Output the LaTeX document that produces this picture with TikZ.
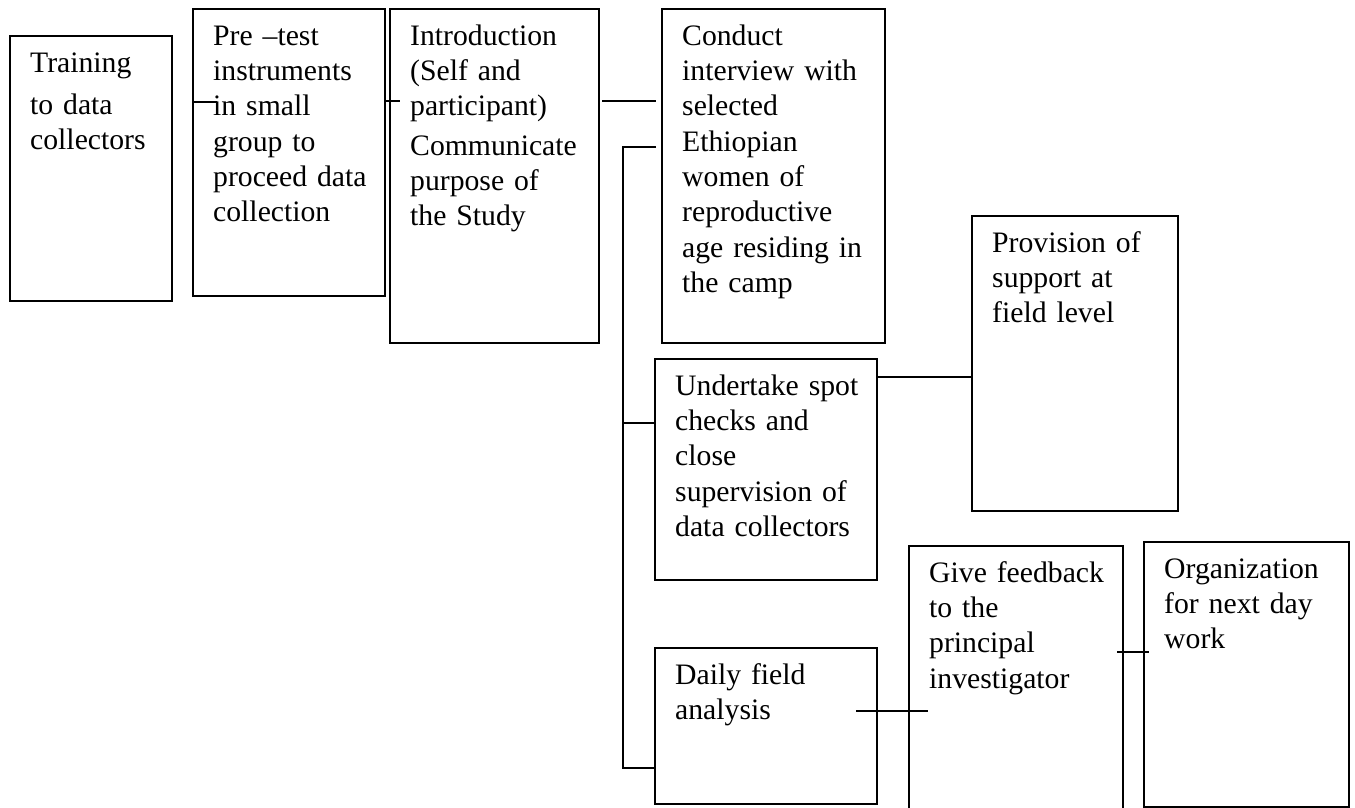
\documentclass[tikz,border=0pt]{standalone}
\usepackage{fontspec}
\setmainfont{Liberation Serif}
\newcommand\flowbox[6]{%
  \node[box, anchor=north west, minimum width={#4pt-#2pt}, minimum height={#5pt-#3pt}] (#1) at (#2,#3) {};
  \node[txt] (#1t) at ({#2+20},{#3+11.3}) {\strut #6};}
\begin{document}
\begin{tikzpicture}[x=1pt,y=-1pt,
  box/.style={draw, line width=1.6pt, inner sep=0pt, outer sep=0pt},
  txt/.style={anchor=north west, inner sep=0pt, align=left, text width=300pt,
    font=\fontsize{29.7pt}{35.3pt}\selectfont},
  link/.style={line width=1.6pt}]
\clip (0,0) rectangle (1355,808);
\useasboundingbox (0,0) rectangle (1355,808);

\flowbox{train}{10}{36}{172}{301}{Training\\[6.5pt]to data\\collectors}
\flowbox{pretest}{193}{9}{385}{296}{Pre --test\\instruments\\in small\\group to\\proceed data\\collection}
\flowbox{intro}{390}{9}{599}{343}{Introduction\\(Self and\\participant)\\[4pt]Communicate\\purpose of\\the Study}
\flowbox{conduct}{662}{9}{885}{343}{Conduct\\interview with\\selected\\Ethiopian\\women of\\reproductive\\age residing in\\the camp}
\flowbox{spot}{655}{359}{877}{580}{Undertake spot\\checks and\\close\\supervision of\\data collectors}
\flowbox{prov}{972}{216}{1178}{511}{Provision of\\support at\\field level}
\flowbox{daily}{655}{648}{877}{804}{Daily field\\analysis}
\flowbox{give}{909}{546}{1123}{840}{Give feedback\\to the\\principal\\investigator}
\flowbox{org}{1144}{542}{1349}{807}{Organization\\for next day\\work}

% connectors
\coordinate (p1) at (217,102);
\draw[link] (pretest.west |- p1) -- (p1);
\coordinate (p2) at (400,101);
\draw[link] (pretest.east |- p2) -- (p2);
\coordinate (q1) at (602,101);
\coordinate (q2) at (656,101);
\draw[link] (q1) -- (q2);
\coordinate (b1) at (656,147);
\coordinate (bt) at (623,147);
\coordinate (bm) at (623,423);
\coordinate (bb) at (623,768);
\draw[link] (b1) -- (bt) -- (bb) -- (bb -| daily.west);
\draw[link] (bm) -- (bm -| spot.west);
\coordinate (s1) at (877,377);
\draw[link] (spot.east |- s1) -- (prov.west |- s1);
\coordinate (d1) at (856,711);
\coordinate (d2) at (928,711);
\draw[link] (d1) -- (d2);
\coordinate (g1) at (1117,652);
\coordinate (g2) at (1149,652);
\draw[link] (g1) -- (g2);
\end{tikzpicture}
\end{document}
